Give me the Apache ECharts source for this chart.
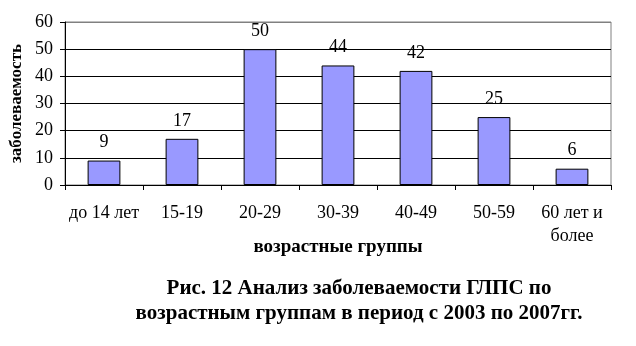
<!DOCTYPE html>
<html><head><meta charset="utf-8">
<script src="https://cdn.jsdelivr.net/npm/echarts@6/dist/echarts.min.js"></script>
<style>html,body{margin:0;padding:0;background:#fff}#c{width:636px;height:346px}</style>
</head><body><div id="c"></div>
<script>
const categories = ['до 14 лет', '15-19', '20-29', '30-39', '40-49', '50-59', '60 лет и\nболее'];
const values = [9, 17, 50, 44, 42, 25, 6];
const yTicks = [0, 10, 20, 30, 40, 50, 60];
const F = '"Liberation Serif", "Times New Roman", serif';
const chart = echarts.init(document.getElementById('c'));
chart.setOption({
  animation: false,
  backgroundColor: '#fff',
  grid: { left: 63, right: 25, top: 22, bottom: 161, show: true, borderColor: '#808080', borderWidth: 1, containLabel: false },
  title: {
    text: 'Рис. 12 Анализ заболеваемости ГЛПС по\nвозрастным группам в период с 2003 по 2007гг.',
    left: 354, top: 271, textAlign: 'center',
    textStyle: { fontFamily: F, fontSize: 21, fontWeight: 'bold', color: '#000', lineHeight: 25, align: 'center' }
  },
  xAxis: {
    type: 'category', data: categories,
    name: 'возрастные группы', nameLocation: 'middle', nameGap: 53, nameMoveOverlap: false,
    nameTextStyle: { fontFamily: F, fontSize: 19, fontWeight: 'bold', color: '#000' },
    axisLine: { lineStyle: { color: '#000' } },
    axisTick: { show: true, length: 5, lineStyle: { color: '#000' } },
    axisLabel: { fontFamily: F, fontSize: 18, color: '#000', margin: 17, lineHeight: 23, interval: 0 }
  },
  yAxis: {
    type: 'value', min: 0, max: 60, interval: 10,
    name: 'заболеваемость', nameLocation: 'middle', nameGap: 40, nameMoveOverlap: false,
    nameTextStyle: { fontFamily: F, fontSize: 17, fontWeight: 'bold', color: '#000' },
    axisLine: { show: true, lineStyle: { color: '#000' } },
    axisTick: { show: true, length: 5, lineStyle: { color: '#000' } },
    axisLabel: { fontFamily: F, fontSize: 18, color: '#000', margin: 12,
      formatter: v => yTicks.includes(v) ? String(v) : '' },
    splitLine: { show: true, lineStyle: { color: ['#000','#000','#000','#000','#000','#000','#808080'], width: 1 } }
  },
  series: [{
    type: 'bar', data: values, barWidth: '42%',
    itemStyle: { color: '#9999ff', borderColor: '#000', borderWidth: 1 },
    label: { show: true, position: 'top', distance: 9, fontFamily: F, fontSize: 18, color: '#000' }
  }]
});
</script></body></html>
